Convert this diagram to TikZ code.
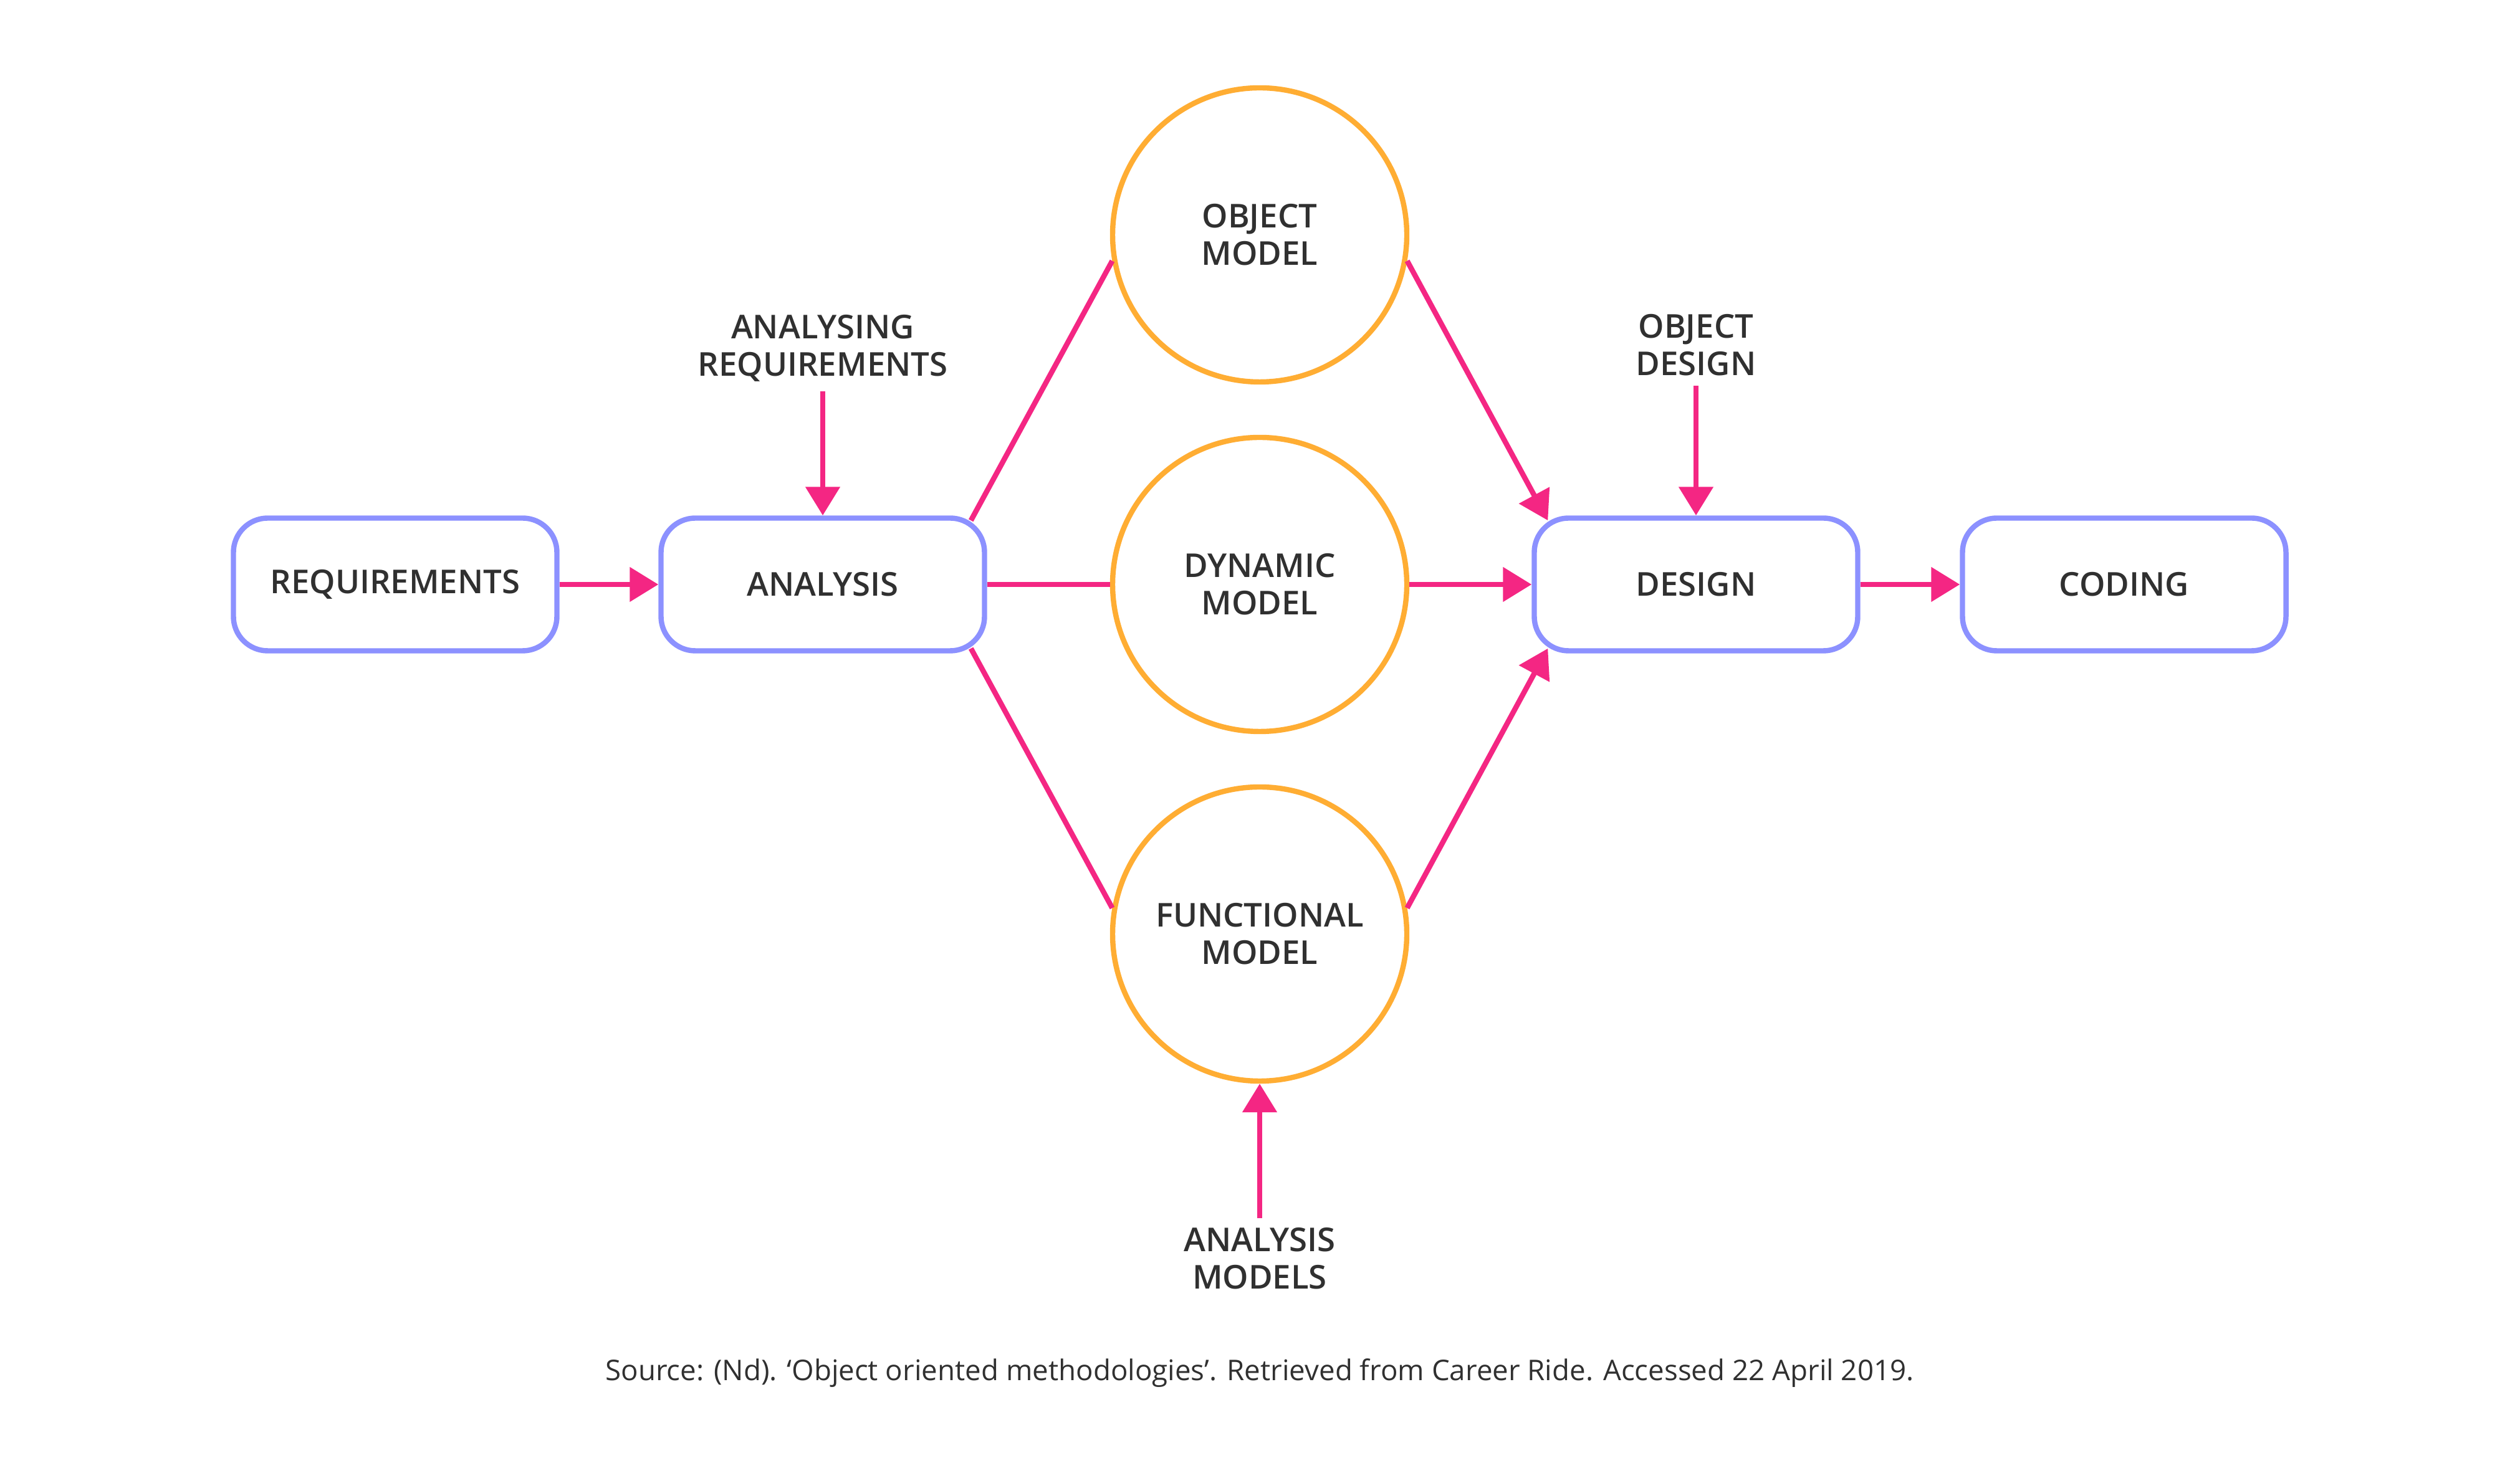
\documentclass[tikz,border=0pt]{standalone}
\usepackage{fontspec}
\setmainfont{Open Sans}[BoldFont={Open Sans Semibold}]
\usetikzlibrary{arrows.meta,shapes,calc}
\definecolor{boxblue}{HTML}{8C91FF}
\definecolor{linkpink}{HTML}{F42683}
\definecolor{modelorange}{HTML}{FFAD33}
\definecolor{textgrey}{HTML}{303030}
\tikzset{
  stage/.style={draw=boxblue,fill=white,line width=2.4pt,rounded corners=0.55cm,
    minimum width=5.19cm,minimum height=2.13cm,text=textgrey,
    font=\bfseries\fontsize{15}{17}\selectfont},
  model/.style={draw=modelorange,fill=white,line width=2.4pt,circle,
    minimum size=4.72cm,align=center,text=textgrey,
    font=\bfseries\fontsize{15}{17}\selectfont},
  note/.style={align=center,inner sep=0.15cm,text=textgrey,
    font=\bfseries\fontsize{15}{17}\selectfont},
  link/.style={draw=linkpink,line width=2.4pt},
  >={Triangle[length=4.6mm,width=5.4mm]}
}
\begin{document}
\begin{tikzpicture}
      \useasboundingbox (0,0) rectangle (40.43,23.64); % page
      \node[stage] (req) at (6.34,14.26) {REQUIREMENTS}; % requirements box
      \node[stage] (ana) at (13.20,14.26) {ANALYSIS}; % analysis box
      \node[stage] (des) at (27.21,14.26) {DESIGN}; % design box
      \node[stage] (cod) at (34.08,14.26) {CODING}; % coding box
      \node[model] (objm) at (20.21,19.87) {OBJECT\\MODEL}; % object model
      \node[model] (dynm) at (20.21,14.26) {DYNAMIC\\MODEL}; % dynamic model
      \node[model] (funm) at (20.21,8.65) {FUNCTIONAL\\MODEL}; % functional model
      \node[note] (anareq) at (13.20,18.05) {ANALYSING\\REQUIREMENTS}; % label
      \node[note] (objdes) at (27.21,18.10) {OBJECT\\DESIGN}; % label
      \node[note] (anamod) at (20.21,3.44) {ANALYSIS\\MODELS}; % label
      \node[text=textgrey,font=\fontsize{13}{15}\selectfont] (src) at (20.21,1.60)
        {Source: (Nd). ‘Object oriented methodologies’. Retrieved from Career Ride. Accessed 22 April 2019.}; % source

%%% Links
      \draw[link,->] (req) -- (ana); % requirements to analysis
      \draw[link,->] (anareq) -- (ana); % analysing requirements
      \draw[link] ($(ana.north east)+(-0.26,-0.08)$) -- (objm.190); % analysis to object model
      \draw[link] (ana.east) -- (dynm.west); % analysis to dynamic model
      \draw[link] ($(ana.south east)+(-0.26,0.08)$) -- (funm.170); % analysis to functional model
      \draw[link,->] (objm.350) -- ($(des.north west)+(0.26,-0.08)$); % object model to design
      \draw[link,->] (dynm.east) -- (des.west); % dynamic model to design
      \draw[link,->] (funm.10) -- ($(des.south west)+(0.26,0.08)$); % functional model to design
      \draw[link,->] (objdes) -- (des); % object design
      \draw[link,->] (anamod) -- (funm); % analysis models
      \draw[link,->] (des) -- (cod); % design to coding
\end{tikzpicture}
\end{document}
